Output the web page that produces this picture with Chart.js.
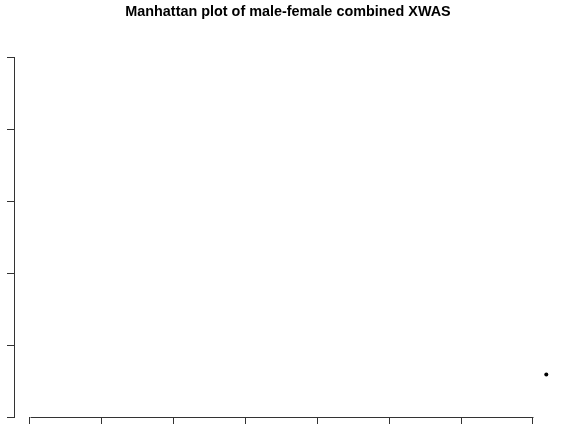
<!DOCTYPE html>
<html lang="en">
<head>
    <meta charset="UTF-8">
    <title>Manhattan plot of male-female combined XWAS</title>
    <script src="https://cdn.jsdelivr.net/npm/chart.js"></script>
    <style>
        html, body { margin: 0; padding: 0; background: #fff; }
        #wrap { width: 576px; height: 432px; }
    </style>
</head>
<body>
    <div id="wrap"><canvas id="xwasChart"></canvas></div>

    <script>
        // position on chrX (Mb) and -log10(p)
        const positions = [143.7];
        const logP = [0.59];
        const xTicks = [0, 20, 40, 60, 80, 100, 120, 140];
        const yTicks = [0, 1, 2, 3, 4, 5];

        const axisColor = '#333333';

        // R-style x axis line: only from first to last tick
        const xAxisLine = {
            id: 'xAxisLine',
            afterDraw(chart) {
                const x = chart.scales.x;
                const ctx = chart.ctx;
                const y = Math.round(chart.chartArea.bottom) + 0.5;
                ctx.save();
                ctx.strokeStyle = axisColor;
                ctx.lineWidth = 1;
                ctx.beginPath();
                ctx.moveTo(Math.round(x.getPixelForValue(xTicks[0])) + 0.5, y);
                ctx.lineTo(Math.round(x.getPixelForValue(xTicks[xTicks.length - 1])) + 0.5, y);
                ctx.stroke();
                ctx.restore();
            }
        };

        const ctx = document.getElementById('xwasChart').getContext('2d');
        new Chart(ctx, {
            type: 'scatter',
            data: {
                datasets: [{
                    data: positions.map((p, i) => ({ x: p, y: logP[i] })),
                    backgroundColor: '#000000',
                    borderColor: '#000000',
                    pointRadius: 2,
                    borderWidth: 0
                }]
            },
            options: {
                responsive: true,
                maintainAspectRatio: false,
                animation: false,
                layout: { padding: 0, autoPadding: false },
                plugins: {
                    legend: { display: false },
                    tooltip: { enabled: false },
                    title: {
                        display: true,
                        text: 'Manhattan plot of male-female combined XWAS',
                        color: '#000000',
                        font: { family: '"Liberation Sans", Arial, sans-serif', size: 14.4, weight: 'bold', lineHeight: 1.2 },
                        padding: { top: 3, bottom: 36.72 }
                    }
                },
                scales: {
                    x: {
                        type: 'linear',
                        min: -4.45,
                        max: 151.97,
                        afterBuildTicks: (scale) => { scale.ticks = xTicks.map(v => ({ value: v })); },
                        afterFit: (scale) => { scale.height = 15; },
                        ticks: { display: false },
                        border: { display: false },
                        grid: { drawOnChartArea: false, drawTicks: true, tickLength: 7, color: axisColor }
                    },
                    y: {
                        min: yTicks[0],
                        max: yTicks[yTicks.length - 1],
                        afterBuildTicks: (scale) => { scale.ticks = yTicks.map(v => ({ value: v })); },
                        afterFit: (scale) => { scale.width = 14; },
                        ticks: { display: false },
                        border: { display: true, color: axisColor, width: 1 },
                        grid: { drawOnChartArea: false, drawTicks: true, tickLength: 7, color: axisColor }
                    }
                }
            },
            plugins: [xAxisLine]
        });
    </script>
</body>
</html>
